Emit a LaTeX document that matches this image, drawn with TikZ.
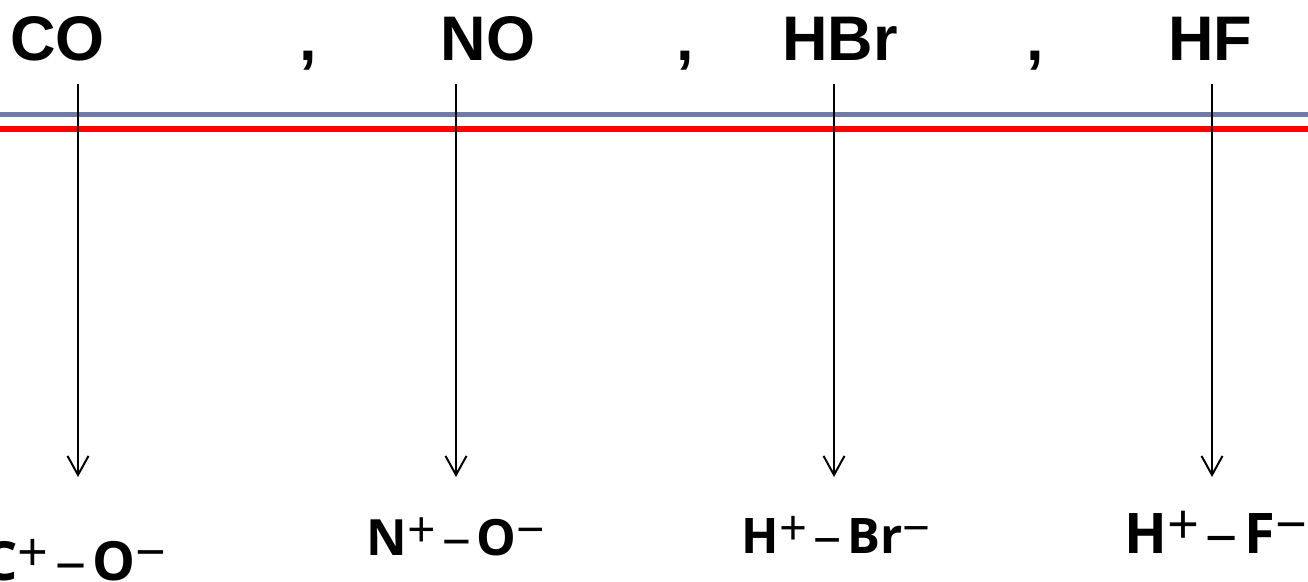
\documentclass[tikz,border=0pt]{standalone}
\usepackage{fontspec}
\setmainfont{Liberation Sans}
\newfontfamily\labfont{Open Sans}
\usetikzlibrary{arrows.meta}
\definecolor{bandgray}{RGB}{113,123,165}
\newcommand{\chgsup}[1]{\raisebox{0.16em}{\mdseries #1}}
\newcommand{\bondd}{\hspace{0.12em}{\mdseries\scalebox{1.15}[1]{–}}\hspace{0.12em}}
\tikzset{
  mol/.style={inner sep=0pt, anchor=base, font=\bfseries\fontsize{63}{63}\selectfont},
  ion/.style={inner sep=0pt, anchor=base},
  link/.style={line width=2pt, -{Straight Barb[length=19pt,width=21pt,line width=2pt]}},
}
\begin{document}
\begin{tikzpicture}[x=1pt,y=-1pt]
\useasboundingbox (0,0) rectangle (1308,581);
% molecules
\node[mol] (co) at (57.5,60) {CO};
\node[mol] (c1) at (308,60) {,};
\node[mol] (no) at (488,60) {NO};
\node[mol] (c2) at (685,60) {,};
\node[mol] (hbr) at (840,60) {HBr};
\node[mol] (c3) at (1035,60) {,};
\node[mol] (hf) at (1210,60) {HF};
% lines
\draw[bandgray, line width=5pt] (0,114) coordinate (gl) -- (1308,114) coordinate (gr);
\draw[red, line width=6pt] (0,129) coordinate (rl) -- (1308,129) coordinate (rr);
% arrow endpoints
\coordinate (s1) at (78,84);  \coordinate (e1) at (78,477);
\coordinate (s2) at (456,84); \coordinate (e2) at (456,477);
\coordinate (s3) at (834,84); \coordinate (e3) at (834,477);
\coordinate (s4) at (1212,84);\coordinate (e4) at (1212,477);
\draw[link] (s1) -- (e1);
\draw[link] (s2) -- (e2);
\draw[link] (s3) -- (e3);
\draw[link] (s4) -- (e4);
% ionic forms
\node[ion, font=\labfont\bfseries\fontsize{54}{54}\selectfont] (ico) at (75,580) {C\chgsup{+}\bondd O\chgsup{−}};
\node[ion, font=\labfont\bfseries\fontsize{50}{50}\selectfont] (ino) at (456,555) {N\chgsup{+}\bondd O\chgsup{−}};
\node[ion, font=\labfont\bfseries\fontsize{49}{49}\selectfont] (ihbr) at (836,553) {H\chgsup{+}\bondd Br\chgsup{−}};
\node[ion, font=\labfont\bfseries\fontsize{56}{56}\selectfont] (ihf) at (1216,553) {H\chgsup{+}\bondd F\chgsup{−}};
\end{tikzpicture}
\end{document}
